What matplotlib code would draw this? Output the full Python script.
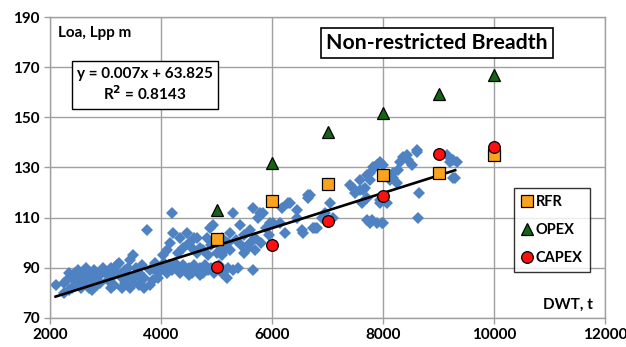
import matplotlib
matplotlib.use("Agg")
import matplotlib.pyplot as plt
import numpy as np

plt.rcParams['font.family'] = ['Lato', 'DejaVu Sans']
plt.rcParams['font.weight'] = 'bold'

# Existing fleet: deadweight (t) and length (m)
dwt_ships = [
    2100, 2250, 2300, 2350, 2350, 2400, 2400, 2450, 2450, 2500,
    2550, 2550, 2600, 2600, 2650, 2650, 2700, 2700, 2750, 2750,
    2800, 2800, 2850, 2900, 2900, 2950, 3000, 2250, 2500, 2850,
    3050, 3100, 3100, 3150, 3150, 3200, 3200, 3250, 3300, 3300,
    3350, 3350, 3400, 3400, 3450, 3450, 3500, 3500, 3550, 3550,
    3600, 3600, 3650, 3650, 3700, 3700, 3750, 3800, 3800, 3850,
    3850, 3900, 3950, 3950,
    4000, 4050, 4100, 4150, 4200, 4250, 4300, 4350, 4400, 4450,
    4500, 4500, 4550, 4600, 4650, 4700, 4700, 4750, 4800, 4850,
    4900, 4950,
    4036, 4100, 4160, 4200, 4220, 4340, 4300, 4400, 4470, 4500,
    4550, 4600, 4650, 4650, 4700, 4750, 4830, 4850, 4880, 4900,
    4940,
    5000, 5050, 5100, 5150, 5200, 5250, 5300, 5350, 5420, 5450,
    5500, 5570, 5600, 5660, 5700, 5750, 5800, 5840, 5900, 5950,
    5050, 5100, 5190, 5200, 5300, 5390, 5660, 5100, 5250, 5500,
    5700, 5960, 5780, 5600,
    6020, 6140, 6180, 6230, 6290, 6320, 6450, 6450, 6540, 6560,
    6650, 6650, 6690, 6740, 6780, 6810, 6900, 6950,
    7045, 7100, 7400, 7460, 7500, 7590, 7590, 7620, 7640, 7680,
    7710, 7710, 7710, 7770, 7770, 7800, 7820, 7860, 7890, 7890,
    7950, 7950, 7980, 7950, 7770,
    8000, 8000, 8070, 8130, 8180, 8180, 8250, 8270, 8300, 8360,
    8430, 8450, 8520, 8610, 8610, 8650, 8630, 9150, 9210,
    9260, 9260, 9300, 9330,
]
loa_ships = [
    83, 80, 85, 88, 81, 86, 82, 83, 88, 89,
    87, 82, 84, 88, 90, 86, 88, 82, 85, 81,
    89, 86, 83, 87, 84, 90, 88, 84, 85, 88,
    85, 90, 82, 83, 87, 88, 91, 92, 86, 82,
    84, 89, 90, 86, 82, 93, 95, 84, 87, 90,
    83, 88, 91, 85, 86, 82, 105, 89, 83, 85,
    90, 92, 88, 86,
    90, 92, 88, 91, 89, 92, 90, 88, 91, 89,
    90, 87, 88, 91, 89, 90, 87, 88, 91, 89,
    90, 88,
    95, 97, 100, 112, 104, 102, 96, 98, 104, 100,
    98, 102, 102, 96, 98, 97, 102, 95, 106, 99,
    107,
    96, 99, 102, 97, 100, 104, 112, 101, 107, 99,
    103, 98, 105, 114, 102, 110, 100, 112, 106, 103,
    91, 88, 86, 90, 89, 90, 89, 95, 97, 96,
    97, 108, 112, 100,
    108, 108, 114, 104, 116, 116, 113, 110, 105, 104,
    119, 118, 119, 106, 106, 106, 110, 112,
    116, 110, 123, 122, 120, 125, 121, 116, 121, 122,
    127, 118, 109, 125, 108, 109, 130, 130, 131, 108,
    116, 132, 108, 117, 128,
    108, 131, 116, 125, 128, 126, 124, 129, 132, 134,
    135, 133, 131, 136, 137, 120, 110, 135, 132,
    133, 126, 126, 132,
]

# Design cases by optimisation criterion
dwt_design = [5000, 6000, 7000, 8000, 9000, 10000]
loa_rfr = [101.5, 116.5, 123.5, 127, 128, 134.8]
loa_opex = [113, 131.8, 144, 151.7, 159.3, 166.9]
loa_capex = [90.3, 99, 108.7, 118.6, 135.4, 138]

# Linear regression of the fleet
fit_slope = 0.007
fit_intercept = 63.825
fit_r2 = 0.8143
fit_range = [2100, 9300]

fig = plt.figure(figsize=(6.26, 3.47), dpi=100)
ax = fig.add_axes([0.0799, 0.0836, 0.8866, 0.8674])

grid_c = '#a0a0a0'
ax.set_xlim(2000, 12000)
ax.set_ylim(70, 190)
ax.set_xticks(np.arange(2000, 12001, 2000))
ax.set_yticks(np.arange(70, 191, 20))
ax.grid(True, color=grid_c, linewidth=1.0)
ax.set_axisbelow(True)
for s in ax.spines.values():
    s.set_color(grid_c)
    s.set_linewidth(1.0)
ax.tick_params(axis='both', colors=grid_c, length=4, width=1.0,
               labelcolor='black', labelsize=11)
for lab in ax.get_xticklabels() + ax.get_yticklabels():
    lab.set_fontweight('bold')

ax.plot(dwt_ships, loa_ships, linestyle='none', marker='D', markersize=6.4,
        color='#4f82c2', markeredgewidth=0, zorder=2)

xf = np.array(fit_range, dtype=float)
ax.plot(xf, fit_slope * xf + fit_intercept, color='black', linewidth=1.9, zorder=3)

ax.plot(dwt_design, loa_rfr, linestyle='none', marker='s', markersize=8.2,
        markerfacecolor='#fba31c', markeredgecolor='black', markeredgewidth=0.9,
        label='RFR', zorder=4)
ax.plot(dwt_design, loa_opex, linestyle='none', marker='^', markersize=8.6,
        markerfacecolor='#156415', markeredgecolor='black', markeredgewidth=0.9,
        label='OPEX', zorder=4)
ax.plot(dwt_design, loa_capex, linestyle='none', marker='o', markersize=8.4,
        markerfacecolor='#ff1010', markeredgecolor='black', markeredgewidth=0.9,
        label='CAPEX', zorder=5)

ax.text(2150, 183.6, 'Loa, Lpp m', fontsize=11, fontweight='bold',
        ha='left', va='center')
ax.text(11780, 75.2, 'DWT, t', fontsize=11, fontweight='bold',
        ha='right', va='center')

ax.text(3712, 162.9,
        f'y = {fit_slope}x + {fit_intercept}\nR$^2$ = {fit_r2}',
        fontsize=11, fontweight='bold', ha='center', va='center',
        linespacing=1.25,
        bbox=dict(boxstyle='square,pad=0.35', facecolor='white',
                  edgecolor='black', linewidth=1.0), zorder=6)

ax.text(8973, 179.6, 'Non-restricted Breadth', fontsize=15.3, fontweight='bold',
        ha='center', va='center',
        bbox=dict(boxstyle='square,pad=0.25', facecolor='white',
                  edgecolor='black', linewidth=1.2), zorder=6)

leg = ax.legend(loc='upper left', bbox_to_anchor=(514 / 626, 1 - 188 / 347),
                bbox_transform=fig.transFigure, frameon=True, fancybox=False,
                borderaxespad=0.0, handlelength=0.8, handletextpad=0.2,
                labelspacing=0.95, borderpad=0.5,
                prop={'size': 10.5, 'weight': 'bold'})
leg.get_frame().set_edgecolor('black')
leg.get_frame().set_linewidth(1.0)

fig.savefig('out.png', dpi=100)
